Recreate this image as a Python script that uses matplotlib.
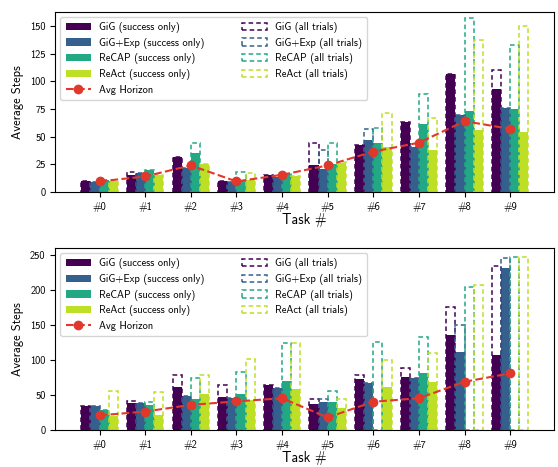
import numpy as np
import matplotlib
matplotlib.use('Agg')
import matplotlib.pyplot as plt

plt.rcParams['font.family'] = ['cmss10', 'DejaVu Sans']
plt.rcParams['axes.unicode_minus'] = False

tasks = ['#0', '#1', '#2', '#3', '#4', '#5', '#6', '#7', '#8', '#9']
methods = ['GiG', 'GiG+Exp', 'ReCAP', 'ReAct']

# top panel
top_success = {
    'GiG':     [10, 15, 31.5, 9.5, 15, 24, 42, 63, 107, 93],
    'GiG+Exp': [9, 17, 22, 9, 13.5, 21, 47, 41, 70, 76],
    'ReCAP':   [11, 20, 35, 9.5, 16, 25, 44, 61, 73, 75],
    'ReAct':   [10, 15, 25, 11, 14.5, 26, 41, 38, 56, 54],
}
top_all = {
    'GiG':     [10, 18, 31.5, 9.5, 15, 44, 42, 63, 107, 110],
    'GiG+Exp': [9, 17, 22, 9, 13.5, 38, 57, 41, 70, 76],
    'ReCAP':   [11, 20, 44, 18, 16, 44, 58, 89, 157, 133],
    'ReAct':   [10, 15, 25, 17, 14.5, 27, 71, 67, 137, 150],
}
top_horizon = [9.5, 14, 24, 9.5, 15.5, 24, 36.5, 44.5, 64, 57]

# bottom panel
bot_success = {
    'GiG':     [35, 38.5, 61, 47.5, 64.5, 37, 73, 76, 136, 107],
    'GiG+Exp': [34.5, 38, 48, 46, 60.5, 40.5, 67.5, 74, 112, 231],
    'ReCAP':   [29, 36, 45, 51, 69.5, 40.5, 0, 81, 0, 0],
    'ReAct':   [20, 21.5, 51, 43, 59, 31, 62, 69, 0, 0],
}
bot_all = {
    'GiG':     [35, 41, 78, 64, 64.5, 45, 78.5, 88.5, 176, 234],
    'GiG+Exp': [34.5, 38, 48, 46, 60.5, 45, 67.5, 74, 150, 246],
    'ReCAP':   [29, 40, 75, 83, 125, 56, 126, 133, 205, 247],
    'ReAct':   [56, 54, 78, 102, 125, 45, 100, 110, 207, 247],
}
bot_horizon = [21, 26.5, 36, 41, 45.5, 18, 40.5, 45.5, 69, 81]

colors = plt.cm.viridis(np.linspace(0, 0.9, 4))
width = 0.2
x = np.arange(len(tasks))


def draw(ax, success, alltr, horizon):
    h_succ, h_all = [], []
    for i, m in enumerate(methods):
        pos = x + (i - 1.5) * width
        b = ax.bar(pos, success[m], width, color=colors[i], label=f'{m} (success only)')
        h_succ.append(b)
    line, = ax.plot(x, horizon, '--o', color='#e2372b', lw=1.5, ms=6,
                    label='Avg Horizon', zorder=5)
    for i, m in enumerate(methods):
        pos = x + (i - 1.5) * width
        b = ax.bar(pos, alltr[m], width, fill=False, edgecolor=colors[i],
                   linestyle=(0, (3, 2)), linewidth=1.1, label=f'{m} (all trials)')
        h_all.append(b)
    ax.set_xticks(x)
    ax.set_xticklabels(tasks)
    ax.set_xlim(-0.97, 9.95)
    ax.set_xlabel('Task #', fontsize=10, labelpad=1)
    ax.set_ylabel('Average Steps', fontsize=9)
    ax.tick_params(labelsize=7.5)
    handles = h_succ + [line] + h_all
    ax.legend(handles=handles, labels=[h.get_label() for h in handles],
              ncol=2, loc='upper left', fontsize=7.5, handlelength=2.4,
              labelspacing=0.45, columnspacing=3.6, framealpha=0.8,
              borderpad=0.5)


fig = plt.figure(figsize=(5.58, 4.67), dpi=100)
ax1 = fig.add_axes([0.099, 0.589, 0.893, 0.386])
ax2 = fig.add_axes([0.099, 0.079, 0.893, 0.39])

draw(ax1, top_success, top_all, top_horizon)
ax1.set_ylim(0, 163)
ax1.set_yticks([0, 25, 50, 75, 100, 125, 150])

draw(ax2, bot_success, bot_all, bot_horizon)
ax2.set_ylim(0, 260)
ax2.set_yticks([0, 50, 100, 150, 200, 250])

plt.savefig('out.png', dpi=100)
